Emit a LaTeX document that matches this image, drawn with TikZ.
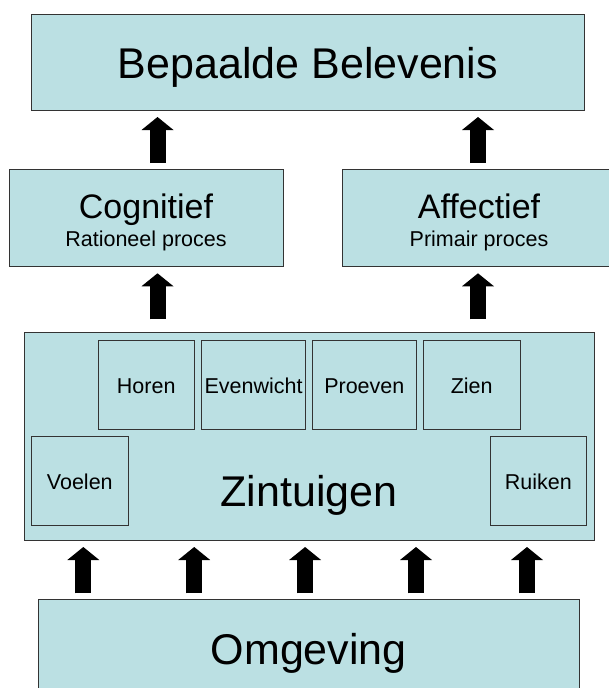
\documentclass[tikz,border=0pt]{standalone}
\usepackage{fontspec}
\setmainfont{Liberation Sans}
\usetikzlibrary{arrows.meta}
\definecolor{boxblue}{HTML}{BBE0E3}
\definecolor{edgegray}{HTML}{333333}

\tikzset{
  box/.style={draw=edgegray, fill=boxblue, line width=0.9pt, rectangle,
    inner sep=0pt, outer sep=0pt},
  bigtext/.style={anchor=base, inner sep=0pt, font=\fontsize{43}{50}\selectfont},
  midtext/.style={anchor=base, inner sep=0pt, font=\fontsize{34}{40}\selectfont},
  smalltext/.style={anchor=base, inner sep=0pt, font=\fontsize{21.5}{26}\selectfont},
  blockarrow/.style={line width=16pt, black,
    -{Triangle[width=32pt, length=13pt, line width=0pt]}},
}

\begin{document}
\begin{tikzpicture}[x=1pt, y=-1pt]
  \useasboundingbox (0,0) rectangle (609,688);
  \clip (0,0) rectangle (609,688);

  % main boxes
  \node[box, minimum width=553pt, minimum height=96pt] (top) at (308,62) {};
  \node[box, minimum width=274pt, minimum height=96.5pt] (cog) at (146,217.75) {};
  \node[box, minimum width=274pt, minimum height=96.5pt] (aff) at (479,217.75) {};
  \node[box, minimum width=570pt, minimum height=207.5pt] (zin) at (309,436.25) {};
  \node[box, minimum width=540.5pt, minimum height=101pt] (omg) at (308.75,649.5) {};

  % senses inside the Zintuigen box
  \node[box, minimum width=96.5pt, minimum height=89pt] (horen) at (146.25,384.5) {};
  \node[box, minimum width=104pt, minimum height=89pt] (even) at (253.5,384.5) {};
  \node[box, minimum width=104pt, minimum height=89pt] (proe) at (364.3,384.5) {};
  \node[box, minimum width=96.7pt, minimum height=89pt] (zien) at (471.7,384.5) {};
  \node[box, minimum width=96.3pt, minimum height=89.3pt] (voel) at (79.8,480.7) {};
  \node[box, minimum width=96.7pt, minimum height=89.3pt] (ruik) at (538.3,480.7) {};

  % texts
  \node[bigtext] (topT) at (308,78.5) {Bepaalde Belevenis};
  \node[midtext] (cogT) at (146,218.3) {Cognitief};
  \node[smalltext] (cogS) at (146,246.6) {Rationeel proces};
  \node[midtext] (affT) at (479,218.3) {Affectief};
  \node[smalltext] (affS) at (479,246.6) {Primair proces};
  \node[bigtext] (zinT) at (309,506.5) {Zintuigen};
  \node[bigtext] (omgT) at (308.75,664) {Omgeving};
  \node[smalltext] (horenT) at (146.25,393.3) {Horen};
  \node[smalltext] (evenT) at (253.5,393.3) {Evenwicht};
  \node[smalltext] (proeT) at (364.3,393.3) {Proeven};
  \node[smalltext] (zienT) at (471.7,393.3) {Zien};
  \node[smalltext] (voelT) at (79.8,489) {Voelen};
  \node[smalltext] (ruikT) at (538.3,489) {Ruiken};

  % arrow columns
  \coordinate (ca) at (157.5,0);
  \coordinate (cb) at (478,0);
  \coordinate (c1) at (83.3,0);
  \coordinate (c2) at (194.2,0);
  \coordinate (c3) at (305.1,0);
  \coordinate (c4) at (416.0,0);
  \coordinate (c5) at (527,0);

  % arrows into the top box
  \draw[blockarrow, shorten <=6.5pt, shorten >=7pt] (cog.north -| ca) -- (top.south -| ca);
  \draw[blockarrow, shorten <=6.5pt, shorten >=7pt] (aff.north -| cb) -- (top.south -| cb);

  % arrows from the senses
  \draw[blockarrow, shorten <=13.2pt, shorten >=7.3pt] (zin.north -| ca) -- (cog.south -| ca);
  \draw[blockarrow, shorten <=13.2pt, shorten >=7.3pt] (zin.north -| cb) -- (aff.south -| cb);

  % arrows from the surroundings
  \foreach \c in {c1,c2,c3,c4,c5}
    \draw[blockarrow, shorten <=5.7pt, shorten >=7pt] (omg.north -| \c) -- (zin.south -| \c);
\end{tikzpicture}
\end{document}
